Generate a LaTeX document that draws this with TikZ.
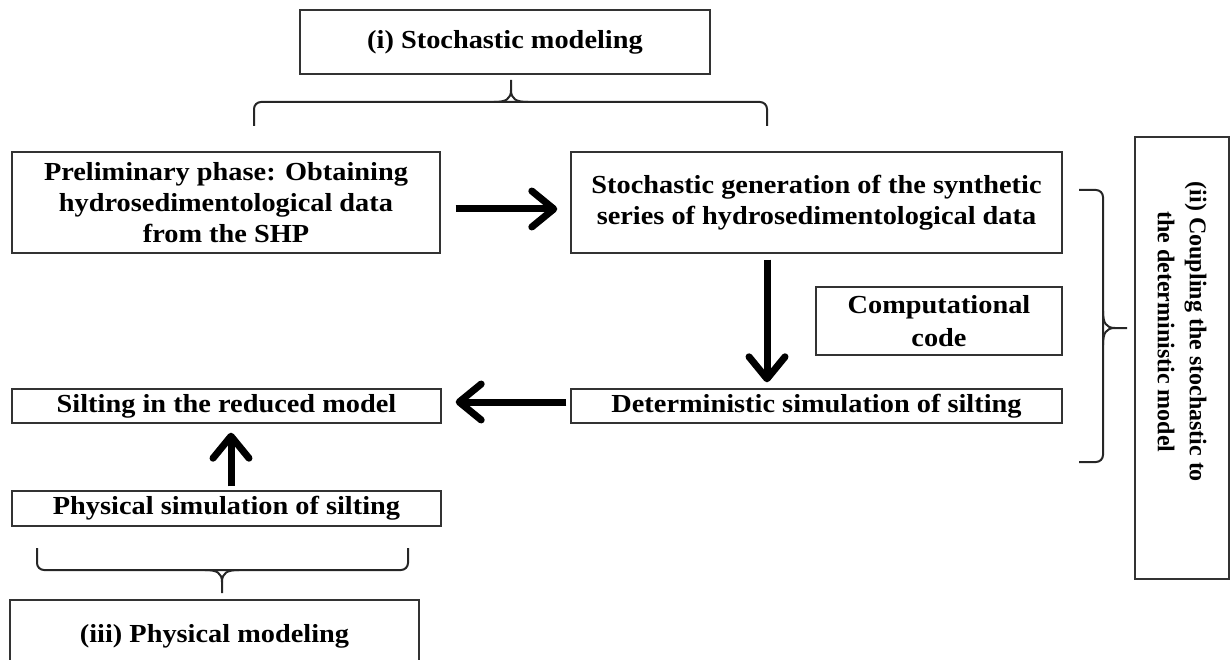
\documentclass[tikz,border=0pt]{standalone}
\usepackage{fontspec}
\setmainfont{Liberation Serif}[FakeStretch=1.09]
\newfontfamily\vertfont{Liberation Serif}
\usetikzlibrary{arrows.meta}
\begin{document}
\begin{tikzpicture}[x=1pt,y=-1pt,
  box/.style={draw=black!80, line width=1.4pt, align=center, inner sep=0pt,
    font=\fontsize{26}{31}\selectfont\bfseries, text=black},
  bigarrow/.style={line width=7pt, -{Straight Barb[length=22pt,width=36pt,round]}},
  bracestyle/.style={line width=2pt, draw=black!85}
]
\useasboundingbox (0,0) rectangle (1231,660);

% boxes
\node[box, minimum width=410pt, minimum height=64pt] (boxi) at (505,42) {(i) Stochastic modeling};
\node[box, minimum width=428pt, minimum height=101pt] (prelim) at (226,202.5)
  {Preliminary phase: Obtaining\\hydrosedimentological data\\from the SHP};
\node[box, minimum width=491pt, minimum height=101pt] (stoch) at (816.5,202.5)
  {Stochastic generation of the synthetic\\series of hydrosedimentological data};
\node[box, minimum width=246pt, minimum height=68pt, font=\fontsize{26}{33}\selectfont\bfseries] (comp) at (939,321)
  {Computational\\code};
\node[box, minimum width=491pt, minimum height=34pt] (det) at (816.5,406)
  {Deterministic simulation of silting};
\node[box, minimum width=429pt, minimum height=34pt] (silt) at (226.5,406)
  {Silting in the reduced model};
\node[box, minimum width=429pt, minimum height=35pt] (phys) at (226.5,508.5)
  {Physical simulation of silting};
\node[box, minimum width=409pt, minimum height=80pt] (boxiii) at (214.5,640)
  {\raisebox{13pt}{(iii) Physical modeling}};
\node[box, minimum width=94pt, minimum height=442pt] (boxii) at (1182,358) {};
\node[rotate=-90, align=center, inner sep=0pt, text=black,
  font=\vertfont\fontsize{24}{32}\selectfont\bfseries] (iitext) at (1182,332)
  {(ii) Coupling the stochastic to\\the deterministic model};

% arrows
\draw[bigarrow, shorten <=15pt, shorten >=13pt] ([yshift=-6.5pt]prelim.east) -- ([yshift=-6.5pt]stoch.west);
\draw[bigarrow, shorten <=6pt, shorten >=6pt] ([xshift=-49.5pt]stoch.south) -- ([xshift=-49.5pt]det.north);
\draw[bigarrow, shorten <=4pt, shorten >=14pt] ([yshift=4pt]det.west) -- ([yshift=4pt]silt.east);
\draw[bigarrow, shorten <=4pt, shorten >=9pt] ([xshift=4.5pt]phys.north) -- ([xshift=4.5pt]silt.south);

% top brace
\draw[bracestyle, rounded corners=7pt] (254,126) -- (254,102) -- (767,102) -- (767,126);
\draw[bracestyle] (494,102) .. controls (506,102) and (511,99) .. (511,90) -- (511,80);
\draw[bracestyle] (528,102) .. controls (516,102) and (511,99) .. (511,90);
% bottom brace
\draw[bracestyle, rounded corners=7pt] (37,548) -- (37,570) -- (408,570) -- (408,548);
\draw[bracestyle] (205,570) .. controls (217,570) and (222,573) .. (222,582) -- (222,593);
\draw[bracestyle] (239,570) .. controls (227,570) and (222,573) .. (222,582);
% right brace
\draw[bracestyle, rounded corners=7pt] (1079,190) -- (1103,190) -- (1103,462) -- (1079,462);
\draw[bracestyle] (1103,311) .. controls (1103,323) and (1106,328) .. (1115,328) -- (1127,328);
\draw[bracestyle] (1103,345) .. controls (1103,333) and (1106,328) .. (1115,328);
\end{tikzpicture}
\end{document}
